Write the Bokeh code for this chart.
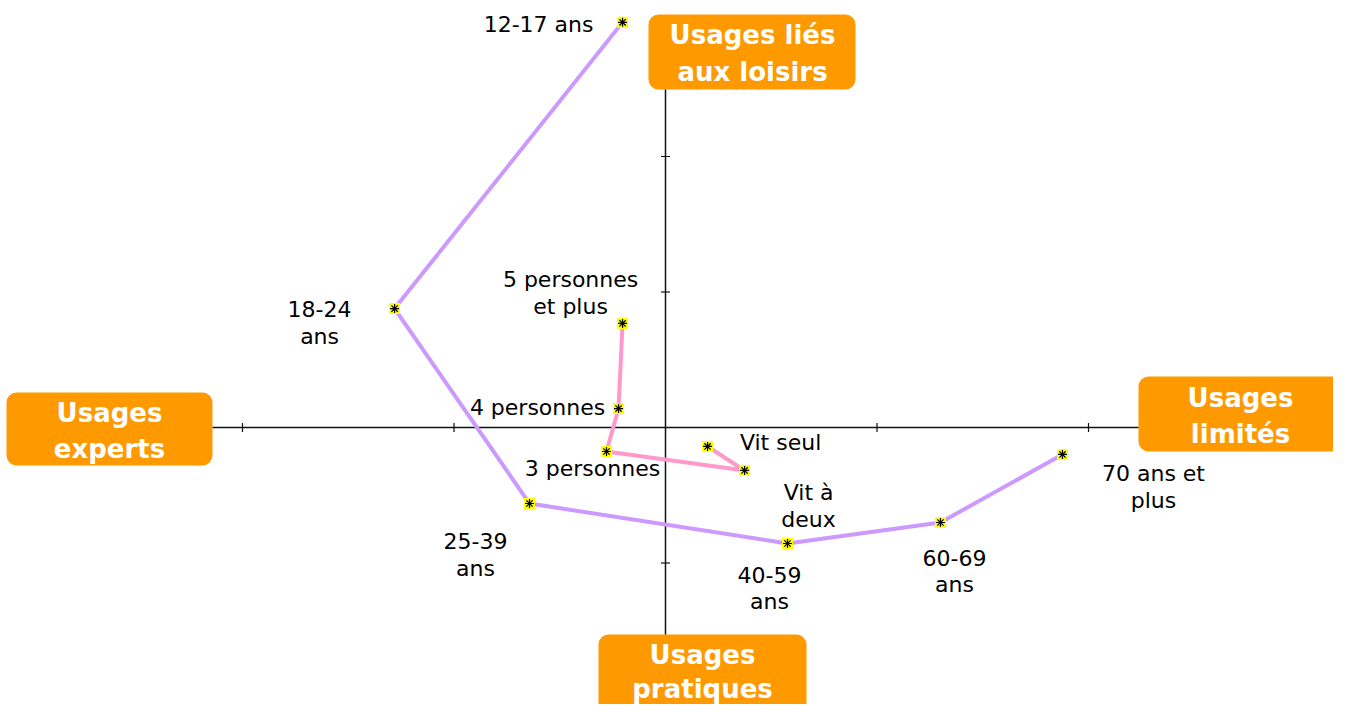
import math
from bokeh.plotting import figure
from bokeh.models import Range1d, BoxAnnotation, ColumnDataSource
from bokeh.core.properties import value
from bokeh.embed import file_html
from bokeh.resources import INLINE

# ---------------- data ----------------
age_labels = ["12-17 ans", "18-24\nans", "25-39\nans", "40-59\nans", "60-69\nans", "70 ans et\nplus"]
age_x = [-0.203, -1.281, -0.643, 0.577, 1.300, 1.877]
age_y = [2.990, 0.878, -0.561, -0.856, -0.701, -0.199]

hh_labels = ["Vit seul", "Vit à\ndeux", "3 personnes", "4 personnes", "5 personnes\net plus"]
hh_x = [0.199, 0.374, -0.279, -0.222, -0.203]
hh_y = [-0.140, -0.317, -0.177, 0.140, 0.768]

x_ticks = [-2, -1, 1, 2]
y_ticks = [2, 1, -1]

pole_labels = ["Usages liés\naux loisirs", "Usages\nexperts", "Usages\nlimités", "Usages\npratiques"]

# ---------------- layout / style ----------------
W, H = 1333, 704
X0, Y0 = 665.0, 427.0     # canvas pixel of origin
SX, SY = 211.5, 135.5     # pixels per unit


def px2x(px):
    return (px - X0) / SX


def py2y(py):
    return (Y0 - py) / SY


# label offsets (pixels, screen direction) relative to each point
age_off = [(-84, 2), (-75, 14), (-54, 51), (-18, 45), (14, 49), (91, 33)]
hh_off = [(73, -4), (64, 36), (-14, 17), (-81, -1), (-52, -30)]
LH = 27

# pole boxes: (left, right, top, bottom) in canvas pixels, text centre x, line ys
poles = [
    (648, 855, 14, 89, 752, [34, 71]),
    (6, 212, 392, 465, 109, [412, 448]),
    (1138, 1343, 376, 451, 1240, [397, 433]),
    (598, 806, 634, 730, 702, [654, 688]),
]
V_TOP, V_BOT = 89, 634

p = figure(width=W, height=H, output_backend="svg", toolbar_location=None,
           x_range=Range1d(px2x(0), px2x(W)),
           y_range=Range1d(py2y(H), py2y(0)),
           min_border=0, background_fill_color="white", border_fill_color="white")
p.axis.visible = False
p.grid.visible = False
p.outline_line_color = None

# axes
p.segment(x0=[px2x(212), 0], y0=[0, py2y(V_TOP)], x1=[px2x(1138), 0], y1=[0, py2y(V_BOT)],
          line_color="#111111", line_width=1.5)
p.scatter(x=x_ticks, y=[0] * len(x_ticks), marker="dash", angle=math.pi / 2,
          size=9, line_color="#111111", line_width=1.2)
p.scatter(x=[0] * len(y_ticks), y=y_ticks, marker="dash",
          size=9, line_color="#111111", line_width=1.2)

# series lines
p.line(age_x, age_y, line_color="#CC99FF", line_width=4)
p.line(hh_x, hh_y, line_color="#FF99CC", line_width=4)

# markers
for xs, ys in ((age_x, age_y), (hh_x, hh_y)):
    p.scatter(xs, ys, marker="square", size=11, fill_color="#FFFF00", line_color=None)
    p.scatter(xs, ys, marker="asterisk", size=9, line_color="black", line_width=1.2)

# point labels
tx, ty, tt = [], [], []
for labels, xs, ys, offs in ((age_labels, age_x, age_y, age_off), (hh_labels, hh_x, hh_y, hh_off)):
    for lab, x, y, (dx, dy) in zip(labels, xs, ys, offs):
        lines = lab.split("\n")
        n = len(lines)
        for i, ln in enumerate(lines):
            ody = dy + (i - (n - 1) / 2) * LH
            tx.append(x + dx / SX)
            ty.append(y - ody / SY)
            tt.append(ln)
p.text(x="x", y="y", text="t", source=ColumnDataSource(dict(x=tx, y=ty, t=tt)),
       text_font=value("DejaVu Sans"), text_font_size="22px", text_color="black",
       text_align="center", text_baseline="middle")

# pole boxes
bx, by, bt = [], [], []
for lab, (l, r, t, b, cx, lys) in zip(pole_labels, poles):
    p.add_layout(BoxAnnotation(left=px2x(l), right=px2x(r), top=py2y(t), bottom=py2y(b),
                               fill_color="#FF9900", fill_alpha=1.0, line_color=None,
                               border_radius=10, level="underlay"))
    for ln, ly in zip(lab.split("\n"), lys):
        bx.append(px2x(cx))
        by.append(py2y(ly))
        bt.append(ln)
p.text(x="x", y="y", text="t", source=ColumnDataSource(dict(x=bx, y=by, t=bt)),
       text_font=value("DejaVu Sans"), text_font_size="26px", text_font_style="bold",
       text_color="white", text_align="center", text_baseline="middle")

open("out.html", "w").write(file_html(p, INLINE))
